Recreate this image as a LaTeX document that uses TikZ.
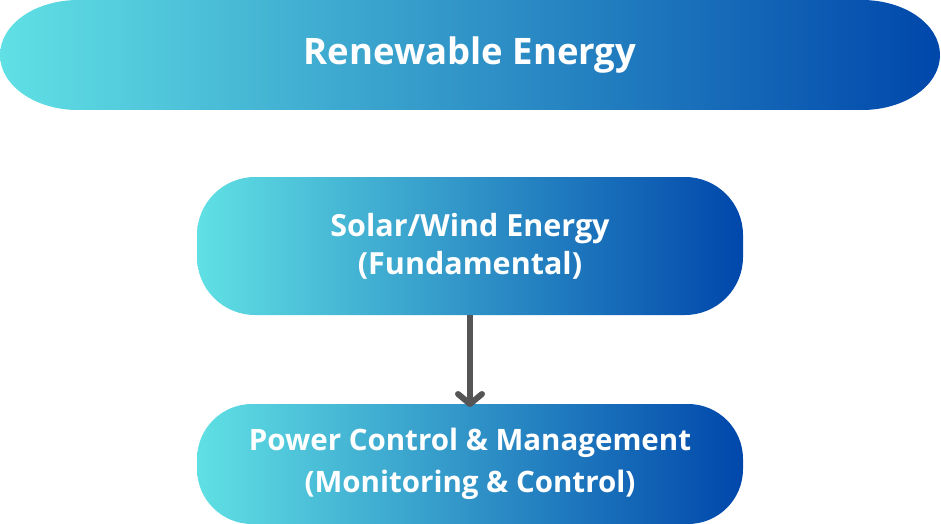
\documentclass[tikz,border=0pt]{standalone}
\usepackage{fontspec}
\setmainfont{Open Sans}
\usetikzlibrary{arrows.meta}
\pgfdeclarelayer{background}
\pgfsetlayers{background,main}
\definecolor{aqua}{RGB}{96,224,228}
\definecolor{deepblue}{RGB}{0,71,171}
\definecolor{arrowgray}{RGB}{85,85,85}
\tikzset{
  boxtext/.style={text=white, align=center, inner sep=0pt, outer sep=0pt},
  pill/.style={boxtext, shade, left color=aqua, right color=deepblue, rounded corners=#1},
  flow/.style={draw=arrowgray, line width=6pt,
    -{Straight Barb[length=10pt, width=24pt, line cap=round, line join=round]}}
}
\begin{document}
\begin{tikzpicture}[x=1pt, y=1pt]
  \useasboundingbox (0,0) rectangle (941,523);
  % heading bar, corners are elliptic
  \node (renew) [boxtext, minimum width=940pt, minimum height=110pt,
    font=\bfseries\fontsize{36.5}{40}\selectfont] at (470,468) {Renewable Energy};
  \begin{pgfonlayer}{background}
    \shade[left color=aqua, right color=deepblue]
      ([xshift=78pt]renew.north west) -- ([xshift=-78pt]renew.north east)
      arc[start angle=90, end angle=-90, x radius=78pt, y radius=55pt]
      -- ([xshift=78pt]renew.south west)
      arc[start angle=270, end angle=90, x radius=78pt, y radius=55pt] -- cycle;
  \end{pgfonlayer}
  \node (solar) [pill=58pt, minimum width=546pt, minimum height=138pt,
    font=\bfseries\fontsize{30.5}{38}\selectfont] at (470,277)
    {Solar/Wind Energy\\(Fundamental)};
  \node (power) [pill=55pt, minimum width=546pt, minimum height=120pt,
    font=\bfseries\fontsize{29.5}{42}\selectfont] at (470,59)
    {Power Control \& Management\\(Monitoring \& Control)};
  \draw[flow] (solar.south) -- ([yshift=-3pt]power.north);
\end{tikzpicture}
\end{document}
